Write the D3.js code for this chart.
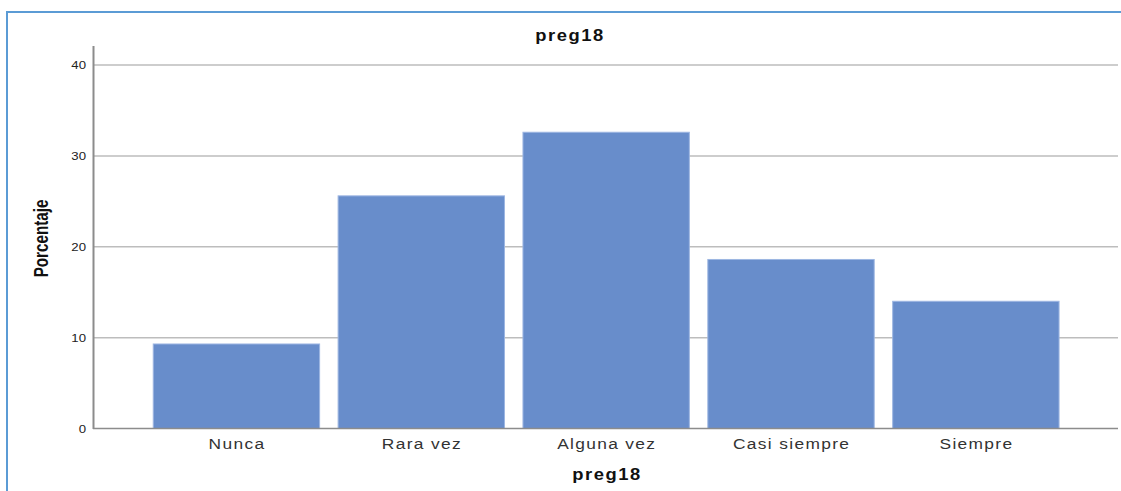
<!DOCTYPE html>
<html><head><meta charset="utf-8">
<script src="https://cdn.jsdelivr.net/npm/d3@7"></script>
<style>body{margin:0;background:#fff}svg{display:block}</style>
</head><body>
<script>
const categories = ["Nunca","Rara vez","Alguna vez","Casi siempre","Siempre"];
const values = [9.3, 25.6, 32.6, 18.6, 14.0];
const yTicks = [0,10,20,30,40];
const title = "preg18";
const xTitle = "preg18";
const yTitle = "Porcentaje";

const W = 1121, H = 491;
const FONT = "Liberation Sans, Arial, sans-serif";
const svg = d3.select("body").append("svg").attr("width", W).attr("height", H);

svg.append("rect").attr("x",7).attr("y",12).attr("width",W+20).attr("height",H+20)
  .attr("fill","none").attr("stroke","#5b9bd5").attr("stroke-width",2);

const x = d3.scaleBand().domain(categories).range([144, 1068.3]).paddingInner(0.1).paddingOuter(0.05);
const y = d3.scaleLinear().domain([0,40]).range([428.5, 65]);
const xL = 94, xR = 1118;

// gridlines
svg.append("g").selectAll("line").data(yTicks.filter(d=>d>0)).join("line")
  .attr("x1",xL).attr("x2",xR).attr("y1",d=>y(d)).attr("y2",d=>y(d))
  .attr("stroke","#bdbdbd").attr("stroke-width",1.5);

// bars
svg.append("g").selectAll("rect").data(values).join("rect")
  .attr("x",(d,i)=>x(categories[i])).attr("width",x.bandwidth())
  .attr("y",d=>y(d)).attr("height",d=>y(0)-y(d))
  .attr("fill","#688dcb").attr("stroke","#9db6e2").attr("stroke-width",1);

// y axis
const yAxis = d3.axisLeft(y).tickValues(yTicks).tickSize(0).tickPadding(0).tickFormat(d3.format("d"));
const gy = svg.append("g").attr("transform",`translate(${xL-0.5},0)`).call(yAxis);
gy.select(".domain").remove();
gy.selectAll("text").attr("font-family",FONT).attr("font-size",11).attr("fill","#222")
  .attr("x",null).attr("transform","translate(-7.5,0) scale(1.2,1)");
svg.append("line").attr("x1",xL-0.5).attr("x2",xL-0.5).attr("y1",46).attr("y2",429)
  .attr("stroke","#8c8c8c").attr("stroke-width",2);

// x axis
const xAxis = d3.axisBottom(x).tickSize(0).tickPadding(0);
const gx = svg.append("g").attr("transform",`translate(0,${y(0)})`).call(xAxis);
gx.select(".domain").remove();
gx.selectAll("text").attr("font-family",FONT).attr("font-size",15.5).attr("letter-spacing","1.2px").attr("fill","#333")
  .attr("y",null).attr("dy","0.71em").attr("transform","translate(0.6,9) scale(1.12,1)");
svg.append("line").attr("x1",xL-1).attr("x2",xR).attr("y1",y(0)).attr("y2",y(0))
  .attr("stroke","#8c8c8c").attr("stroke-width",1.5);

// titles
svg.append("text").attr("transform","translate(570,41) scale(1.15,1)").attr("text-anchor","middle")
  .attr("font-family",FONT).attr("font-weight","bold").attr("font-size",16).attr("letter-spacing","1.3px")
  .attr("fill","#111").text(title);
svg.append("text").attr("transform",`translate(${(xL+xR)/2 + 1},480) scale(1.15,1)`).attr("text-anchor","middle")
  .attr("font-family",FONT).attr("font-weight","bold").attr("font-size",16).attr("letter-spacing","1.3px")
  .attr("fill","#111").text(xTitle);
svg.append("text").attr("transform","translate(48,238.5) rotate(-90) scale(0.76,1)").attr("text-anchor","middle")
  .attr("font-family",FONT).attr("font-weight","bold").attr("font-size",20)
  .attr("fill","#111").text(yTitle);
</script>
</body></html>
